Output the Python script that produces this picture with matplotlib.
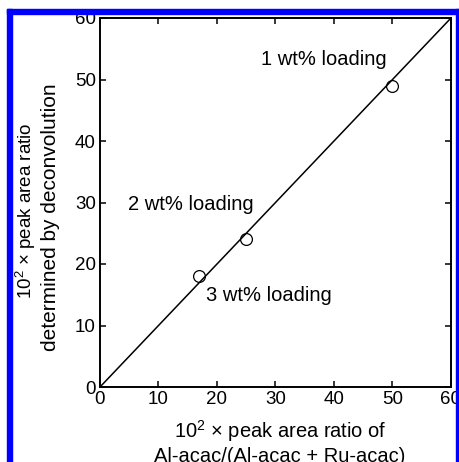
import numpy as np
import matplotlib
matplotlib.use('Agg')
import matplotlib.pyplot as plt
from matplotlib.patches import Rectangle

plt.rcParams['font.family'] = ['Liberation Sans', 'DejaVu Sans']
plt.rcParams['mathtext.default'] = 'regular'

# data
x_ref = [17, 25, 50]
y_meas = [18, 24, 49]
line_x = [0, 60]
line_y = [0, 60]
labels = ['1 wt% loading', '2 wt% loading', '3 wt% loading']
label_pos = [(38.2, 53.3), (15.6, 29.6), (28.8, 14.8)]
ticks = [0, 10, 20, 30, 40, 50, 60]

W, H = 460, 462
fig = plt.figure(figsize=(W / 100, H / 100), dpi=100)
ax = fig.add_axes([100 / W, 75 / H, 351 / W, 369 / H])

ax.plot(line_x, line_y, color='black', lw=1.1)
ax.plot(x_ref, y_meas, 'o', mfc='none', mec='black', ms=8.5, mew=0.9)

for txt, (tx, ty) in zip(labels, label_pos):
    ax.text(tx, ty, txt, ha='center', va='center', fontsize=14.5)

ax.set_xlim(0, 60)
ax.set_ylim(0, 60)
ax.set_xticks(ticks)
ax.set_yticks(ticks)
ax.tick_params(direction='in', length=4.5, width=1.1, labelsize=13.5,
               top=True, right=True, pad=3)
for s in ax.spines.values():
    s.set_linewidth(1.4)

# axis labels placed in pixel coords
fig.text(280 / W, 1 - 431 / H, '10$^2$ × peak area ratio of',
         ha='center', va='center', fontsize=14.5)
fig.text(280 / W, 1 - 456 / H, 'Al-acac/(Al-acac + Ru-acac)',
         ha='center', va='center', fontsize=14.5)
fig.text(26 / W, 1 - 211 / H, '10$^2$ × peak area ratio',
         ha='center', va='center', rotation=90, fontsize=13.5)
fig.text(51 / W, 1 - 217 / H, 'determined by deconvolution',
         ha='center', va='center', rotation=90, fontsize=15)

# blue frame around the figure
blue = (0, 0, 1)
fig.patches.append(Rectangle((7 / W, 0), 5 / W, 1 - 9 / H, transform=fig.transFigure,
                             color=blue, zorder=10))
fig.patches.append(Rectangle((7 / W, 1 - 14 / H), 1 - 7 / W, 5 / H, transform=fig.transFigure,
                             color=blue, zorder=10))
fig.patches.append(Rectangle((456 / W, 0), 4 / W, 1 - 9 / H, transform=fig.transFigure,
                             color=blue, zorder=10))

fig.savefig('out.png', dpi=100)
